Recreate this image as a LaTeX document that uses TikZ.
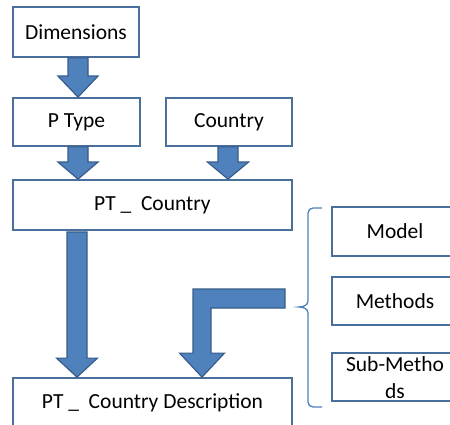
\documentclass[tikz,border=0pt]{standalone}
\usepackage{fontspec}
\setmainfont{Carlito}
\usetikzlibrary{calc}
\definecolor{boxline}{HTML}{4A6F9C}
\definecolor{arrfill}{HTML}{4F81BD}
\definecolor{arrline}{HTML}{385D8A}
\tikzset{
  box/.style={draw=boxline,line width=1.8pt,fill=white,rectangle,inner sep=0pt,
    font=\fontsize{21.5}{26}\selectfont},
  barrow/.style={fill=arrfill,draw=arrline,line width=1.2pt,line join=miter},
  bracestyle/.style={draw=arrfill,line width=1.3pt},
  lbl/.style={inner sep=0pt,align=center,font=\fontsize{21.5}{27}\selectfont}
}
% #1 start, #2 tip, #3 shaft half-width, #4 head half-width, #5 head length
\newcommand\blockdown[5]{%
  \draw[barrow] let \p1=(#1), \p2=(#2) in
    (\x1-#3,\y1) -- (\x1+#3,\y1) -- (\x1+#3,\y2+#5) -- (\x1+#4,\y2+#5) --
    (\x1,\y2) -- (\x1-#4,\y2+#5) -- (\x1-#3,\y2+#5) -- cycle;}
\begin{document}
\begin{tikzpicture}[x=1pt,y=-1pt]
\useasboundingbox (0,0) rectangle (450,425);
\clip (0,0) rectangle (450,425);
\fill[white] (0,0) rectangle (450,425);
% boxes
\node[box,minimum width=126pt,minimum height=50pt] (dim) at (76,32) {Dimensions};
\node[box,minimum width=127pt,minimum height=48pt] (ptype) at (76.5,122) {P Type};
\node[box,minimum width=126pt,minimum height=48pt] (country) at (229,122) {Country};
\node[box,minimum width=279pt,minimum height=50pt] (ptc) at (152.5,205) {PT \_\ \ Country};
\node[box,minimum width=279pt,minimum height=50pt] (ptcd) at (152.5,403) {PT \_\ \ Country Description};
\node[box,minimum width=126pt,minimum height=49pt] (model) at (395,231.5) {Model};
\node[box,minimum width=126pt,minimum height=48pt] (methods) at (395,301) {Methods};
\node[box,minimum width=126pt,minimum height=48pt] (sub) at (395,377) {};
\node[lbl] (subt) at ($(sub.center)+(0,1)$) {Sub-Metho\\ds};
% block arrows
\blockdown{$(dim.south)+(2,0)$}{$(ptype.north)+(1.5,0)$}{10pt}{20pt}{21pt}
\blockdown{$(ptype.south)+(1.5,0)$}{$(ptc.north -| ptype.north)+(1.5,0)$}{10pt}{20pt}{17pt}
\blockdown{$(country.south)+(-1,0)$}{$(ptc.north -| country.north)+(-1,0)$}{10pt}{20.5pt}{17pt}
\blockdown{$(ptc.south -| ptype.south)+(0.5,1)$}{$(ptcd.north -| ptype.north)+(0.5,0)$}{10pt}{20.5pt}{19pt}
% L-shaped arrow
\coordinate (lstart) at (285,298.5);
\draw[barrow] let \p1=(lstart), \p2=($(ptcd.north)+(49.5,0)$) in
  (\x1,\y1+9.5) -- (\x1,\y1-9.5) -- (\x2+9,\y1-9.5) -- (\x2+9,\y2+24) --
  (\x2+22.5,\y2+24) -- (\x2,\y2) -- (\x2-22.5,\y2+24) -- (\x2-9,\y2+24) --
  (\x2-9,\y1+9.5) -- cycle;
% brace
\draw[bracestyle] (322,208) -- (313,208) to[out=180,in=90] (308,213) -- (308,301)
  to[out=-90,in=0] (299,307) to[out=0,in=90] (308,313) -- (308,402)
  to[out=-90,in=180] (313,407) -- (322,407);
\end{tikzpicture}
\end{document}
